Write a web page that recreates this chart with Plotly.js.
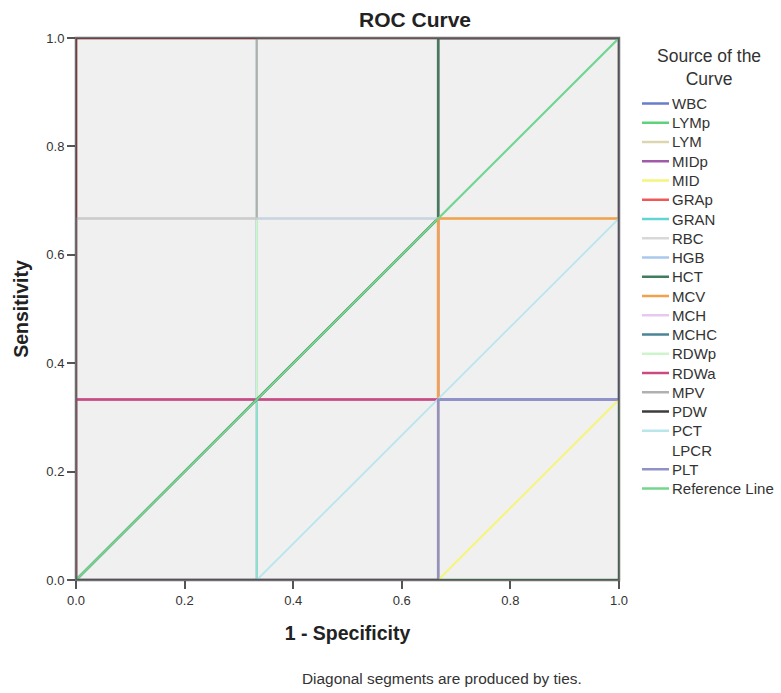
<!DOCTYPE html>
<html>
<head>
<meta charset="utf-8">
<script src="https://cdn.plot.ly/plotly-3.0.1.min.js"></script>
<style>html,body{margin:0;padding:0;background:#fff;}#chart{width:781px;height:693px;}</style>
</head>
<body>
<div id="chart"></div>
<script>
// ROC data: 1 - Specificity (fpr) and Sensitivity (tpr) per source of the curve
const WBC_fpr  = [0, 0.667, 0.667, 1, 1];        const WBC_tpr  = [0, 0, 0.333, 0.333, 1];
const LYMp_fpr = [0, 0.667, 1, 1, 1];            const LYMp_tpr = [0, 0, 0, 0.333, 1];
const LYM_fpr  = [0, 0, 0, 0.333, 1];            const LYM_tpr  = [0, 0.667, 1, 1, 1];
const MIDp_fpr = [0, 0, 0.667, 1, 1];            const MIDp_tpr = [0, 0.333, 0.333, 0.333, 1];
const MID_fpr  = [0, 0.667, 1, 1];               const MID_tpr  = [0, 0, 0.333, 1];
const GRAp_fpr = [0, 0, 0, 0.333, 1];            const GRAp_tpr = [0, 0.667, 1, 1, 1];
const GRAN_fpr = [0, 0.333, 0.333, 1];           const GRAN_tpr = [0, 0, 0.333, 1];
const RBC_fpr  = [0, 0, 0.333, 0.667, 1, 1];     const RBC_tpr  = [0, 0.667, 0.667, 0.667, 0.667, 1];
const HGB_fpr  = [0, 0.333, 0.333, 0.667, 0.667, 1]; const HGB_tpr = [0, 0.333, 0.667, 0.667, 1, 1];
const HCT_fpr  = [0, 0.333, 0.667, 0.667, 1];    const HCT_tpr  = [0, 0.333, 0.667, 1, 1];
const MCV_fpr  = [0, 0.667, 0.667, 0.667, 1, 1]; const MCV_tpr  = [0, 0, 0.333, 0.667, 0.667, 1];
const MCH_fpr  = [0, 0, 0.333, 1];               const MCH_tpr  = [0, 1, 1, 1];
const MCHC_fpr = [0, 0.333, 0.333, 1];           const MCHC_tpr = [0, 0, 1, 1];
const RDWp_fpr = [0, 0.333, 0.333, 0.333, 1];    const RDWp_tpr = [0, 0, 0.333, 1, 1];
const RDWa_fpr = [0, 0, 0.667, 0.667, 1];        const RDWa_tpr = [0, 0.333, 0.333, 1, 1];
const MPV_fpr  = [0, 0, 0.333, 0.333, 1];        const MPV_tpr  = [0, 0.667, 0.667, 1, 1];
const PDW_fpr  = [0, 0.333, 0.667, 1, 1];        const PDW_tpr  = [0, 0, 0, 0, 1];
const PCT_fpr  = [0, 0.333, 1, 1];               const PCT_tpr  = [0, 0, 0.667, 1];
const LPCR_fpr = [0, 0, 1];                      const LPCR_tpr = [0, 1, 1];
const PLT_fpr  = [0, 0.667, 0.667, 1, 1];        const PLT_tpr  = [0, 0, 0.333, 0.333, 1];
const REF_fpr  = [0, 1];                         const REF_tpr  = [0, 1];

const legendNames = ["WBC", "LYMp", "LYM", "MIDp", "MID", "GRAp", "GRAN", "RBC", "HGB", "HCT",
  "MCV", "MCH", "MCHC", "RDWp", "RDWa", "MPV", "PDW", "PCT", "LPCR", "PLT", "Reference Line"];

const xTicks = [0, 0.2, 0.4, 0.6, 0.8, 1.0];
const xTickLabels = ["0.0", "0.2", "0.4", "0.6", "0.8", "1.0"];
const yTicks = [0, 0.2, 0.4, 0.6, 0.8, 1.0];
const yTickLabels = ["0.0", "0.2", "0.4", "0.6", "0.8", "1.0"];

// name -> [fpr, tpr, colour, line alpha, width]
const curves = {
  "WBC":  [WBC_fpr,  WBC_tpr,  "#6a7dc9", 1, 2],
  "LYMp": [LYMp_fpr, LYMp_tpr, "#5ed27a", 1, 2],
  "LYM":  [LYM_fpr,  LYM_tpr,  "#dcd6b0", 1, 2],
  "MIDp": [MIDp_fpr, MIDp_tpr, "#a05aa8", 1, 2],
  "MID":  [MID_fpr,  MID_tpr,  "#f5f57a", 1, 2],
  "GRAp": [GRAp_fpr, GRAp_tpr, "#f05858", 1, 2.5],
  "GRAN": [GRAN_fpr, GRAN_tpr, "#62d4d4", 0.6, 2],
  "RBC":  [RBC_fpr,  RBC_tpr,  "#d8d8d8", 0.7, 2],
  "HGB":  [HGB_fpr,  HGB_tpr,  "#a8c8ec", 1, 2],
  "HCT":  [HCT_fpr,  HCT_tpr,  "#3f7d5c", 1, 2.5],
  "MCV":  [MCV_fpr,  MCV_tpr,  "#f2a24a", 1, 2.5],
  "MCH":  [MCH_fpr,  MCH_tpr,  "#e6c8f2", 1, 2],
  "MCHC": [MCHC_fpr, MCHC_tpr, "#4a8496", 1, 2],
  "RDWp": [RDWp_fpr, RDWp_tpr, "#ccf5cc", 1, 2],
  "RDWa": [RDWa_fpr, RDWa_tpr, "#c94b82", 1, 2.5],
  "MPV":  [MPV_fpr,  MPV_tpr,  "#b0b0b0", 1, 2],
  "PDW":  [PDW_fpr,  PDW_tpr,  "#3c3c3c", 1, 2],
  "PCT":  [PCT_fpr,  PCT_tpr,  "#b8e6ec", 1, 1.8],
  "LPCR": [LPCR_fpr, LPCR_tpr, "#ffffff", 0, 2],
  "PLT":  [PLT_fpr,  PLT_tpr,  "#8f92c6", 1, 2.5],
  "Reference Line": [REF_fpr, REF_tpr, "#74d68c", 1, 2]
};

// drawing order, bottom to top
const drawOrder = ["PDW", "LYM", "MCH", "MIDp", "MCHC", "LYMp", "WBC", "GRAp", "RDWa", "HGB",
  "RDWp", "GRAN", "HCT", "MPV", "RBC", "MCV", "PCT", "MID", "PLT", "LPCR", "Reference Line"];

function rgba(hex, a) {
  const n = parseInt(hex.slice(1), 16);
  return "rgba(" + ((n >> 16) & 255) + "," + ((n >> 8) & 255) + "," + (n & 255) + "," + a + ")";
}

const traces = drawOrder.map(name => {
  const c = curves[name];
  return {
    type: "scatter", mode: "lines", name: name,
    x: c[0], y: c[1],
    line: {color: rgba(c[2], c[3]), width: c[4]},
    showlegend: false, hoverinfo: "skip"
  };
});

const FONT = "Liberation Sans, Arial, sans-serif";
// plot area in pixels
const PL = 76, PR = 619, PT = 38, PB = 580;
const px2x = px => (px - PL) / (PR - PL);
const px2y = py => (PB - py) / (PB - PT);

const shapes = [{
  type: "rect", xref: "paper", yref: "paper", x0: 0, x1: 1, y0: 0, y1: 1,
  line: {color: "rgba(55,55,60,0.72)", width: 2.5}, fillcolor: "rgba(0,0,0,0)", layer: "above"
}];
const annotations = [];

// legend (drawn by hand so the spacing matches)
annotations.push({
  text: "Source of the<br>Curve", xref: "paper", yref: "paper",
  x: px2x(709), y: px2y(67), xanchor: "center", yanchor: "middle", align: "center",
  showarrow: false, font: {family: FONT, size: 17.5, color: "#333"}
});
legendNames.forEach((name, i) => {
  const yy = 103.5 + 19.25 * i;
  const c = curves[name];
  if (c[3] > 0) {
    shapes.push({
      type: "line", xref: "paper", yref: "paper",
      x0: px2x(642), x1: px2x(669), y0: px2y(yy), y1: px2y(yy),
      line: {color: c[2], width: 2.5}, layer: "above"
    });
  }
  annotations.push({
    text: name, xref: "paper", yref: "paper",
    x: px2x(670), y: px2y(yy), xanchor: "left", yanchor: "middle",
    showarrow: false, font: {family: FONT, size: 15, color: "#333"}
  });
});

annotations.push({
  text: "Diagonal segments are produced by ties.",
  xref: "paper", yref: "paper",
  x: px2x(442), y: px2y(678), xanchor: "center", yanchor: "middle",
  showarrow: false, font: {family: FONT, size: 15.4, color: "#333"}
});

const axisCommon = {
  range: [0, 1],
  ticks: "outside", ticklen: 8, tickwidth: 2, tickcolor: "#555",
  showline: false, showgrid: false, zeroline: false,
  tickfont: {family: FONT, size: 13, color: "#333"}
};

const layout = {
  width: 781, height: 693,
  margin: {l: PL, r: 781 - PR, t: PT, b: 693 - PB},
  paper_bgcolor: "#ffffff",
  plot_bgcolor: "#f0f0f0",
  font: {family: FONT, size: 12, color: "#333"},
  title: {
    text: "<b>ROC Curve</b>",
    font: {family: FONT, size: 21, color: "#222"},
    x: 415 / 781, xref: "container", xanchor: "center",
    y: 1 - 19.5 / 693, yref: "container", yanchor: "middle"
  },
  xaxis: Object.assign({}, axisCommon, {
    tickvals: xTicks, ticktext: xTickLabels,
    title: {text: "<b>1 - Specificity</b>", font: {family: FONT, size: 19.5, color: "#222"}, standoff: 19}
  }),
  yaxis: Object.assign({}, axisCommon, {
    tickvals: yTicks, ticktext: yTickLabels,
    title: {text: "<b>Sensitivity</b>", font: {family: FONT, size: 19.5, color: "#222"}, standoff: 12}
  }),
  showlegend: false,
  shapes: shapes,
  annotations: annotations,
  hovermode: false
};

Plotly.newPlot("chart", traces, layout, {displayModeBar: false, staticPlot: true});
</script>
</body>
</html>
